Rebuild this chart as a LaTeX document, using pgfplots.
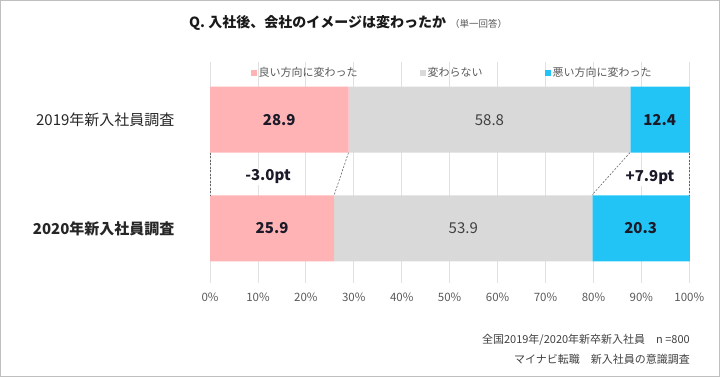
\documentclass[border=0pt]{standalone}
\usepackage{pgfplots}
\pgfplotsset{compat=1.18}
\usepackage{fontspec}
\setmainfont{Noto Sans CJK JP}
\definecolor{cpink}{RGB}{255,179,181}
\definecolor{cgray}{RGB}{217,217,217}
\definecolor{cblue}{RGB}{33,196,245}
\definecolor{ctext}{RGB}{89,89,89}
\definecolor{cdark}{RGB}{26,26,40}
\definecolor{cframe}{RGB}{191,191,191}
\definecolor{cgrid}{RGB}{225,225,225}
\pgfplotsset{sqleg/.style={legend image code/.code={\fill[##1] (0pt,-3pt) rectangle (6pt,3pt);}}}
\begin{document}
\begin{tikzpicture}
\begin{axis}[
 at={(210pt,-283pt)}, anchor=south west,
 scale only axis, width=479.3pt, height=221pt,
 xbar stacked, bar width=66,
 xmin=0, xmax=100, ymin=62, ymax=283, y dir=reverse,
 axis line style={draw=none},
 xtick={0,10,...,100},
 xticklabels={0\%,10\%,20\%,30\%,40\%,50\%,60\%,70\%,80\%,90\%,100\%},
 xmajorgrids, grid style={cgrid, line width=0.8pt},
 major tick length=0pt,
 xticklabel style={font=\fontsize{11.5}{12}\selectfont, text=ctext, yshift=-6pt},
 ytick={119.7,228.3},
 yticklabels={2019年新入社員調査, \textbf{2020年新入社員調査}},
 yticklabel style={font=\fontsize{15}{16}\selectfont, text=black!85, xshift=-32pt},
 clip=false,
 legend columns=3,
 legend style={draw=none, fill=none, at={(rel axis cs:0.505,0.95)}, anchor=center,
   font=\fontsize{11}{12}\selectfont, text=ctext,
   /tikz/every even column/.append style={column sep=60pt}},
]
\addplot[fill=cpink, draw=none, sqleg] coordinates {(28.9,119.7) (25.9,228.3)};
\addplot[fill=cgray, draw=none, sqleg] coordinates {(58.8,119.7) (53.9,228.3)};
\addplot[fill=cblue, draw=none, sqleg] coordinates {(12.4,119.7) (20.3,228.3)};
\legend{良い方向に変わった,変わらない,悪い方向に変わった}
\coordinate (a1) at (axis cs:14.45,119.7);
\coordinate (a2) at (axis cs:58.3,119.7);
\coordinate (a3) at (axis cs:93.8,119.7);
\coordinate (b1) at (axis cs:12.95,228.3);
\coordinate (b2) at (axis cs:52.85,228.3);
\coordinate (b3) at (axis cs:89.85,228.3);
\coordinate (l1) at (axis cs:0,152.7);
\coordinate (l2) at (axis cs:0,195);
\coordinate (l3) at (axis cs:28.9,152.7);
\coordinate (l4) at (axis cs:25.9,195);
\coordinate (r1) at (axis cs:87.6,152.7);
\coordinate (r2) at (axis cs:79.7,195);
\coordinate (r3) at (axis cs:100,152.7);
\coordinate (r4) at (axis cs:100,195);
\coordinate (dl) at (axis cs:12.1,177);
\coordinate (dr) at (axis cs:91.8,178);
\end{axis}
\tikzset{vb/.style={font=\bfseries\fontsize{15}{16}\selectfont, text=cdark},
  vn/.style={font=\fontsize{15}{16}\selectfont, text=black!75},
  dsh/.style={gray!80!black, line width=0.6pt, dash pattern=on 2pt off 1.5pt}}
\node[vb] at (a1) {28.9};
\node[vn] at (a2) {58.8};
\node[vb] at (a3) {12.4};
\node[vb] at (b1) {25.9};
\node[vn] at (b2) {53.9};
\node[vb] at (b3) {20.3};
\draw[dsh] (l1) -- (l2);
\draw[dsh] (l3) -- (l4);
\draw[dsh] (r1) -- (r2);
\draw[dsh] (r3) -- (r4);
\node[vb, fill=white, inner sep=1pt] at (dl) {-3.0pt};
\node[vb, fill=white, inner sep=1pt] at (dr) {+7.9pt};
\node[anchor=west, inner sep=0pt, text=black!90] at (189pt,-23pt) {\bfseries\fontsize{14}{16}\selectfont Q. 入社後、会社のイメージは変わったか\hspace{4pt}{\mdseries\fontsize{9.5}{10}\selectfont\color{ctext}（単一回答）}};
\node[anchor=east, inner sep=0pt, text=black!75, font=\fontsize{11}{12}\selectfont] at (690pt,-340pt) {全国2019年/2020年新卒新入社員\quad n =800};
\node[anchor=east, inner sep=0pt, text=black!75, font=\fontsize{11}{12}\selectfont] at (690pt,-359.5pt) {マイナビ転職\quad 新入社員の意識調査};
\draw[cframe, line width=1pt] (0.5pt,-0.5pt) rectangle (719.5pt,-376.5pt);
\end{tikzpicture}
\end{document}
